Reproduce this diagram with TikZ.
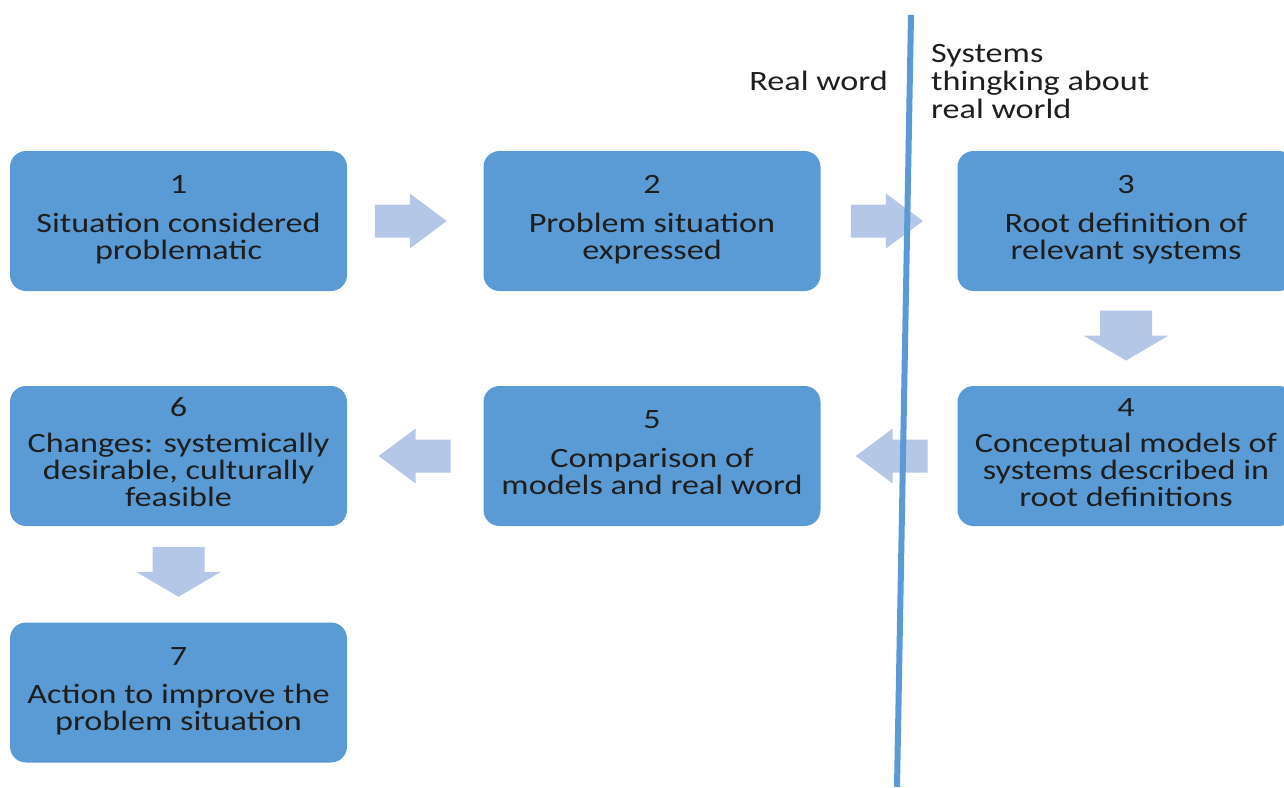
\documentclass[tikz,border=0pt]{standalone}
\usepackage{fontspec}
\setmainfont{Carlito}[FakeStretch=1.22]
\usetikzlibrary{calc}
\definecolor{boxc}{HTML}{5B9BD5}
\definecolor{arrc}{HTML}{B4C7E7}
\definecolor{linec}{HTML}{5B9BD5}
\definecolor{txtc}{HTML}{1E1E1E}
\tikzset{
  stepbox/.style={rectangle, rounded corners=16pt, fill=boxc, minimum width=337pt,
    minimum height=140pt, inner sep=0pt, align=center, text=txtc,
    font=\fontsize{28}{27}\selectfont},
  sidelabel/.style={inner sep=0pt, text=txtc, font=\fontsize{28}{28}\selectfont},
  harr/.pic={\fill[arrc] (-36,-16.5) -- (-1,-16.5) -- (-1,-27.5) -- (36,0) -- (-1,27.5) -- (-1,16.5) -- (-36,16.5) -- cycle;},
  varr/.pic={\fill[arrc] (-26,-25) -- (26,-25) -- (26,0) -- (42.5,0) -- (0,25) -- (-42.5,0) -- (-26,0) -- cycle;}
}
\begin{document}
\begin{tikzpicture}[x=1pt,y=-1pt]
\useasboundingbox (0,0) rectangle (1284,787);
\node[stepbox] (b1) at (178.5,221) {\strut 1\\[10pt]Situation considered\\problematic\strut};
\node[stepbox] (b2) at (652,221) {\strut 2\\[10pt]Problem situation\\expressed\strut};
\node[stepbox] (b3) at (1126,221) {\strut 3\\[10pt]Root definition of\\relevant systems\strut};
\node[stepbox] (b4) at (1126,456) {\strut 4\\[8pt]Conceptual models of\\systems described in\\root definitions\strut};
\node[stepbox] (b5) at (652,456) {\strut 5\\[10pt]Comparison of\\models and real word\strut};
\node[stepbox] (b6) at (178.5,456) {\strut 6\\[8pt]Changes: systemically\\desirable, culturally\\feasible\strut};
\node[stepbox] (b7) at (178.5,692.5) {\strut 7\\[10pt]Action to improve the\\problem situation\strut};
\pic at ($(b1.east)!0.467!(b2.west)$) {harr};
\pic at ($(b2.east)!0.485!(b3.west)$) {harr};
\pic at ($(b3.south)!0.469!(b4.north)$) {varr};
\pic[rotate=180] at ($(b4.west)!0.48!(b5.east)$) {harr};
\pic[rotate=180] at ($(b5.west)!0.504!(b6.east)$) {harr};
\pic at ($(b6.south)!0.474!(b7.north)$) {varr};
\coordinate (ltop) at (911,15);
\coordinate (lbot) at (897,787);
\draw[linec, line width=6pt] (ltop) -- (lbot);
\node[sidelabel, anchor=base east] (rw) at (888,90) {Real word};
\node[sidelabel, anchor=north west, align=left] (st) at (931,42.4) {\strut Systems\\thingking about\\real world};
\end{tikzpicture}
\end{document}
